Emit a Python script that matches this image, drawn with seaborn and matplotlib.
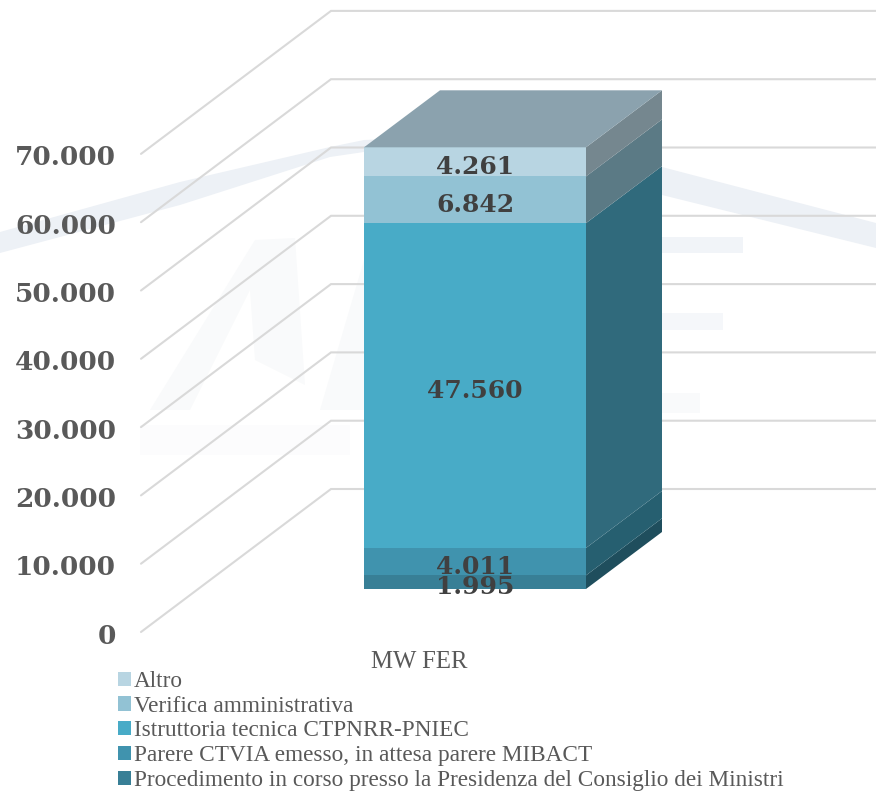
import matplotlib
matplotlib.use("Agg")
import matplotlib.pyplot as plt
from matplotlib.patches import Polygon, Patch
from matplotlib.transforms import Affine2D
import pandas as pd
import seaborn as sns

categories = ["MW FER"]
series_names = ["Procedimento in corso presso la Presidenza del Consiglio dei Ministri",
                "Parere CTVIA emesso, in attesa parere MIBACT",
                "Istruttoria tecnica CTPNRR-PNIEC",
                "Verifica amministrativa",
                "Altro"]
series_values = [1995, 4011, 47560, 6842, 4261]
series_labels = ["1.995", "4.011", "47.560", "6.842", "4.261"]
front_colors = ["#387F96", "#4093AE", "#48ABC7", "#92C2D4", "#B8D5E2"]
side_colors = ["#1F4E5D", "#265F70", "#306A7C", "#5B7A85", "#75878F"]
top_color = "#8BA2AE"
tick_values = [0, 10000, 20000, 30000, 40000, 50000, 60000, 70000]
tick_labels = ["0", "10.000", "20.000", "30.000", "40.000", "50.000", "60.000", "70.000"]

W, H = 876, 792
PX_PER_VALUE = 0.00683
PX_PER_CAT = 222.0
BAR_LEFT, BAR_BASE = 364.0, 589.0

sns.set_theme(style="white")
fig = plt.figure(figsize=(W / 100, H / 100), dpi=100)
ax = fig.add_axes([0, 0, 1, 1])

def dx(px):
    return px / PX_PER_CAT

def dy(px):
    return px / PX_PER_VALUE

def X(px):
    return -0.5 + dx(px - BAR_LEFT)

# faint logo watermark behind the chart, in pixel space
px_tr = Affine2D().scale(1, -1).translate(0, H)
def wm(points, color):
    ax.add_patch(Polygon(points, closed=True, fc=color, ec="none", transform=px_tr, zorder=0))

wm([(0, 232), (180, 182), (330, 147), (364, 140), (475, 135), (662, 167), (876, 223),
    (876, 248), (662, 195), (475, 165), (364, 152), (330, 157), (180, 205), (0, 253)], "#EDF1F6")
wm([(150, 410), (255, 240), (295, 238), (305, 385), (255, 360), (250, 290), (190, 410)], "#F9FAFB")
wm([(320, 410), (364, 260), (364, 410)], "#F9FAFB")
wm([(662, 237), (743, 237), (743, 253), (662, 253)], "#F1F4F8")
wm([(662, 313), (723, 313), (723, 330), (662, 330)], "#F5F7FA")
wm([(662, 393), (700, 393), (700, 413), (662, 413)], "#F9FAFB")
wm([(140, 425), (350, 425), (350, 455), (140, 455)], "#FCFCFD")

# back wall grid lines and axis labels
wall_front_dy = -43.0
wall_back_dy = 100.0
for v, lab in zip(tick_values, tick_labels):
    ax.plot([X(141), X(331), X(W)],
            [v + dy(wall_front_dy), v + dy(wall_back_dy), v + dy(wall_back_dy)],
            color="#D9D9D9", lw=1.5, zorder=1, solid_joinstyle="miter")
    ax.text(X(116), v + dy(wall_front_dy - 4), lab, ha="right", va="center",
            family="DejaVu Serif", weight="bold", fontsize=19, color="#595959")

# stacked front face, tallest cumulative first
cum = []
total = 0
for val in series_values:
    total += val
    cum.append(total)
for c, col in reversed(list(zip(cum, front_colors))):
    df = pd.DataFrame({"cat": categories, "value": [c]})
    sns.barplot(data=df, x="cat", y="value", color=col, width=1.0, saturation=1, ax=ax,
                zorder=3, linewidth=0, edgecolor="none")

# depth faces
ddx, ddy = dx(76), dy(57)
low = 0
for val, col in zip(series_values, side_colors):
    high = low + val
    ax.add_patch(Polygon([(0.5, low), (0.5 + ddx, low + ddy), (0.5 + ddx, high + ddy), (0.5, high)],
                         closed=True, fc=col, ec="none", zorder=3))
    low = high
ax.add_patch(Polygon([(-0.5, total), (-0.5 + ddx, total + ddy), (0.5 + ddx, total + ddy), (0.5, total)],
                     closed=True, fc=top_color, ec="none", zorder=3))

# value labels
low = 0
for val, lab in zip(series_values, series_labels):
    ax.text(0, low + val / 2 - dy(5), lab, ha="center", va="center", family="DejaVu Serif", weight="bold",
            fontsize=18, color="#404040", zorder=5)
    low += val

ax.set_xlim(X(0), X(W))
ax.set_ylim(dy(BAR_BASE - H), dy(BAR_BASE))
ax.set_axis_off()

ax.text(X(419), dy(BAR_BASE - 662), categories[0], ha="center", va="center", family="Liberation Serif",
        fontsize=17.8, color="#595959")

handles = [Patch(fc=c, ec="none") for c in reversed(front_colors)]
leg = ax.legend(handles, list(reversed(series_names)), loc="upper left",
                bbox_to_anchor=(118 / W, 1 - 671 / H), frameon=False, borderpad=0, borderaxespad=0,
                prop={"family": "Liberation Serif", "size": 16.75}, labelcolor="#595959",
                handlelength=0.56, handleheight=0.56, handletextpad=0.13, labelspacing=0.16)

fig.savefig("out.png", dpi=100)
